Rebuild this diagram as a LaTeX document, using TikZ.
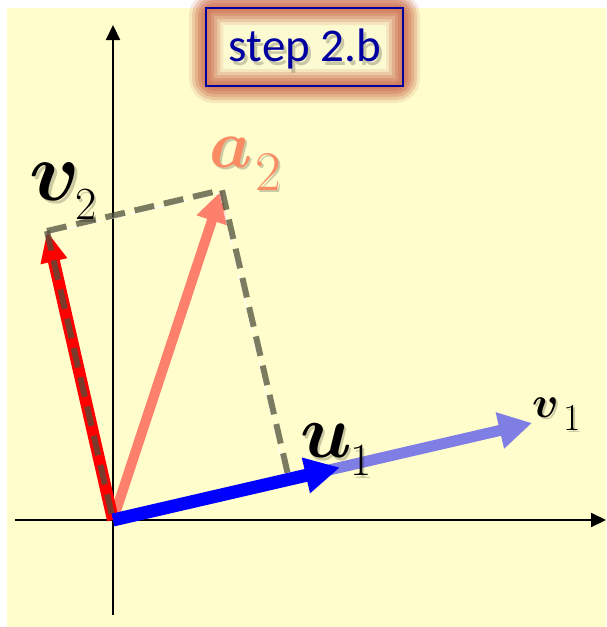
\documentclass[tikz,border=0pt]{standalone}
\usepackage{graphicx}
\usepackage{bm}
\usepackage{fontspec}
\newfontfamily\carlito{Carlito}
\usetikzlibrary{arrows.meta}
\definecolor{bgyellow}{RGB}{255,253,204}
\definecolor{boxfill}{RGB}{252,250,208}
\definecolor{glow}{RGB}{208,118,88}
\definecolor{stepblue}{RGB}{0,0,160}
\definecolor{salmon}{RGB}{252,128,108}
\definecolor{salmontext}{RGB}{250,140,100}
\definecolor{dashgray}{RGB}{80,80,60}
% #1 scale of letter (x10pt), #2 letter, #3 kern, #4 drop, #5 sub size, #6 digit
\newcommand\veclab[6]{\scalebox{#1}{$\bm{#2}$}\hspace{#3}\raisebox{-#4}{\fontsize{#5}{#5}\selectfont #6}}
\tikzset{
  axis/.style={line width=2.2pt,-{Triangle[length=15pt,width=14pt]}},
  vecarrow/.style={line cap=butt},
  projdash/.style={dashgray,opacity=0.75,line width=6pt,dash pattern=on 20pt off 10pt},
  projhl/.style={white,opacity=0.8,line width=1.4pt,dash pattern=on 14pt off 8pt},
  lab/.style={anchor=base west,inner sep=0pt,outer sep=0pt},
  labshadow/.style={lab,text=black,opacity=0.2},
}
\begin{document}
\begin{tikzpicture}[x=1pt,y=-1pt]
\useasboundingbox (0,0) rectangle (606,627);
\fill[white] (0,0) rectangle (606,627);
\fill[bgyellow] (7,8) rectangle (606,627);
% coordinates
\coordinate (O) at (113,520);
\coordinate (U) at (340,467.5);
\coordinate (V1) at (532,423);
\coordinate (A) at (222,190);
\coordinate (V) at (47,231);
\coordinate (P) at (289,479);
\coordinate (xl) at (15,520);
\coordinate (xr) at (606,520);
\coordinate (yb) at (113,615);
\coordinate (yt) at (113,25);
% axes
\draw[axis] (xl) -- (xr);
\draw[axis] (yb) -- (yt);
% step box with glow
\fill[boxfill] (206,8) rectangle (403,86);
\foreach \w/\o in {34/0.15,28/0.25,22/0.3,16/0.4,10/0.45,5/0.5}{
  \draw[glow,line width=\w pt,opacity=\o,rounded corners=8pt] (206,8) rectangle (403,86);
}
\node[text=black,opacity=0.2,font=\carlito\fontsize{47}{47}\selectfont] (stepshadow) at (308,53) {step 2.b};
\node[text=stepblue,font=\carlito\fontsize{47}{47}\selectfont] (step) at (305,49) {step 2.b};
\draw[stepblue,line width=1.8pt] (206,8) rectangle (403,86);
% vectors
\begin{scope}[transparency group,opacity=0.5]
\draw[vecarrow,blue,line width=11pt,-{Triangle[length=33pt,width=35pt]}] (O) -- (V1);
\end{scope}
\draw[vecarrow,salmon,line width=10pt,-{Triangle[length=32pt,width=30pt]}] (O) -- (A);
\draw[vecarrow,red,line width=12pt,-{Triangle[length=31pt,width=25pt]}] (O) -- (V);
% projection lines
\draw[projhl] ([shift={(-2,3)}]V) -- ([shift={(-2,3)}]A) -- ([shift={(-2,3)}]P);
\draw[projdash] (V) -- (A) -- (P);
\draw[projdash] (V) -- (O);
% u1
\draw[vecarrow,blue,line width=13pt,-{Triangle[length=35pt,width=34pt]}] (O) -- (U);
% labels (with soft shadows)
\node[labshadow] (v2s) at (32,203) {\veclab{8.4}{v}{-5pt}{19pt}{46}{2}};
\node[lab] (v2l) at (30,200) {\veclab{8.4}{v}{-5pt}{19pt}{46}{2}};
\node[labshadow] (a2s) at (211,169) {\veclab{6.8}{a}{3pt}{23pt}{56}{2}};
\node[lab,text=salmontext] (a2l) at (209,167) {\veclab{6.8}{a}{3pt}{23pt}{56}{2}};
\node[labshadow] (u1s) at (302,460) {\veclab{7.6}{u}{-1pt}{18pt}{46}{1}};
\node[lab] (u1l) at (300,457) {\veclab{7.6}{u}{-1pt}{18pt}{46}{1}};
\node[labshadow] (v1s) at (534,419) {\veclab{4.4}{v}{5pt}{13pt}{38}{1}};
\node[lab] (v1l) at (532,417) {\veclab{4.4}{v}{5pt}{13pt}{38}{1}};
\end{tikzpicture}
\end{document}
